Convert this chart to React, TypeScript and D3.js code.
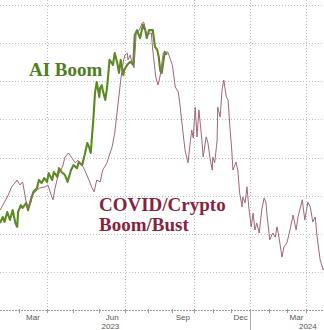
import React from "react";
import * as d3 from "d3";

// AI Boom (2023) – rebased index
const aiDates = ["2023-02-08","2023-02-11","2023-02-13","2023-02-16","2023-02-19","2023-02-22","2023-02-25","2023-02-27","2023-02-28","2023-03-03","2023-03-05","2023-03-09","2023-03-11","2023-03-15","2023-03-17","2023-03-21","2023-03-23","2023-03-26","2023-03-29","2023-04-01","2023-04-03","2023-04-07","2023-04-09","2023-04-13","2023-04-15","2023-04-18","2023-04-22","2023-04-25","2023-04-29","2023-05-02","2023-05-06","2023-05-08","2023-05-12","2023-05-15","2023-05-18","2023-05-20","2023-05-22","2023-05-25","2023-05-27","2023-05-29","2023-06-01","2023-06-02","2023-06-04","2023-06-05","2023-06-08","2023-06-10","2023-06-13","2023-06-17","2023-06-19","2023-06-22","2023-06-24","2023-06-26","2023-06-29","2023-06-30","2023-07-04","2023-07-08","2023-07-12","2023-07-14","2023-07-17","2023-07-21","2023-07-25","2023-07-28","2023-07-30","2023-08-02","2023-08-07","2023-08-10","2023-08-13","2023-08-15","2023-08-17","2023-08-19","2023-08-23","2023-08-26"];
const aiValues = [102.8,104.4,103.1,105.7,103.6,106.2,102.8,101.8,105.7,107.5,106.8,108.1,106.2,109.6,111.0,112.0,114.1,113.3,114.6,113.6,115.9,114.1,116.2,114.9,117.2,116.2,115.4,113.6,116.7,118.0,117.2,118.8,118.0,120.7,123.8,122.8,121.2,129.8,136.9,139.8,135.9,138.2,139.0,137.7,135.1,138.2,145.6,144.3,147.4,144.8,142.2,145.6,141.6,143.0,144.3,145.1,144.3,152.1,153.4,151.3,154.8,153.4,151.3,153.4,153.4,149.0,148.2,146.4,142.8,142.2,147.7,147.0];

// COVID/Crypto Boom/Bust – rebased index, overlaid
const covidDates = ["2023-02-08","2023-02-11","2023-02-16","2023-02-21","2023-02-27","2023-03-02","2023-03-05","2023-03-08","2023-03-10","2023-03-14","2023-03-16","2023-03-21","2023-03-24","2023-03-30","2023-04-02","2023-04-07","2023-04-08","2023-04-10","2023-04-14","2023-04-19","2023-04-22","2023-04-26","2023-04-30","2023-05-04","2023-05-07","2023-05-12","2023-05-15","2023-05-19","2023-05-23","2023-05-26","2023-05-29","2023-06-02","2023-06-05","2023-06-10","2023-06-12","2023-06-16","2023-06-19","2023-06-23","2023-06-26","2023-06-29","2023-07-01","2023-07-04","2023-07-05","2023-07-08","2023-07-10","2023-07-13","2023-07-16","2023-07-20","2023-07-24","2023-07-26","2023-07-30","2023-08-05","2023-08-07","2023-08-11","2023-08-14","2023-08-17","2023-08-21","2023-08-27","2023-09-02","2023-09-03","2023-09-06","2023-09-10","2023-09-12","2023-09-16","2023-09-19","2023-09-23","2023-09-26","2023-09-28","2023-09-30","2023-10-03","2023-10-06","2023-10-09","2023-10-14","2023-10-16","2023-10-21","2023-10-24","2023-10-27","2023-10-31","2023-11-01","2023-11-04","2023-11-08","2023-11-09","2023-11-13","2023-11-16","2023-11-19","2023-11-23","2023-11-26","2023-11-29","2023-12-02","2023-12-04","2023-12-09","2023-12-12","2023-12-15","2023-12-19","2023-12-20","2023-12-24","2023-12-27","2023-12-30","2024-01-03","2024-01-06","2024-01-09","2024-01-12","2024-01-16","2024-01-20","2024-01-24","2024-01-27","2024-01-29","2024-02-02","2024-02-07","2024-02-11","2024-02-14","2024-02-17","2024-02-22","2024-02-25","2024-03-01","2024-03-06","2024-03-11","2024-03-16","2024-03-19","2024-03-26","2024-03-27","2024-03-30","2024-04-04","2024-04-08","2024-04-12","2024-04-16","2024-04-19","2024-04-24","2024-04-29","2024-05-02"];
const covidValues = [106.2,107.5,109.6,112.3,114.1,112.8,113.6,109.6,106.8,108.1,110.2,111.5,112.0,112.3,112.8,109.4,108.9,111.5,115.4,117.5,120.1,121.2,119.9,118.6,119.3,118.0,116.7,114.6,112.3,111.0,114.1,113.6,116.7,118.6,120.1,122.8,126.4,134.3,140.3,145.1,146.9,147.4,145.6,146.9,145.1,143.5,152.7,153.4,155.3,155.5,152.1,152.7,148.2,141.1,139.0,141.6,147.4,147.7,144.3,143.0,138.5,137.2,134.3,127.2,122.0,118.6,124.1,127.2,125.1,133.2,125.4,132.5,124.6,120.1,125.4,123.8,120.1,116.7,120.1,118.6,124.6,133.2,130.6,137.7,140.3,135.9,135.1,128.0,122.0,116.7,118.8,116.7,110.7,107.0,109.6,108.1,112.3,107.0,101.8,105.4,101.0,102.8,100.2,106.2,109.4,108.1,104.4,98.4,100.2,99.1,101.8,99.1,93.9,96.5,97.6,101.0,104.9,101.0,104.4,108.9,107.5,103.6,108.3,107.0,103.1,104.4,99.1,93.1,90.5,91.3];

const gridValues = [90, 100, 110, 120, 130, 140, 150, 160];
const quarterStarts = ["2023-04-01", "2023-07-01", "2023-10-01", "2024-01-01", "2024-04-01"];
const monthTicks = ["2023-02-01","2023-03-01","2023-04-01","2023-05-01","2023-06-01","2023-07-01","2023-08-01","2023-09-01","2023-10-01","2023-11-01","2023-12-01","2024-01-01","2024-02-01","2024-03-01","2024-04-01","2024-05-01"];
const monthLabels = [
  { label: "Mar", from: "2023-03-01", to: "2023-04-01" },
  { label: "Jun", from: "2023-06-01", to: "2023-07-01" },
  { label: "Sep", from: "2023-09-01", to: "2023-10-01" },
  { label: "Dec", from: "2023-12-01", to: "2024-01-01" },
  { label: "Mar", from: "2024-03-01", to: "2024-04-01" },
];
const yearLabels = [
  { label: "2023", at: "2023-06-14" },
  { label: "2024", at: "2024-04-04" },
];
const yearBreaks = ["2024-01-01"];

const W = 324;
const H = 330;
const parse = d3.timeParse("%Y-%m-%d");

export default function App() {
  const x = d3
    .scaleTime()
    .domain(["2023-02-01","2023-03-01","2023-04-01","2023-07-01","2023-10-01","2024-01-01","2024-04-01","2024-05-01"].map((s) => parse(s) as Date))
    .range([-6.3, 19, 47, 125, 194, 250, 306, 324.5]);
  const y = d3.scaleLinear().domain([80, 160]).range([310, 5]);

  const line = d3
    .line<[Date, number]>()
    .x((d) => x(d[0]))
    .y((d) => y(d[1]));

  const ai: [Date, number][] = aiDates.map((s, i) => [parse(s) as Date, aiValues[i]]);
  const covid: [Date, number][] = covidDates.map((s, i) => [parse(s) as Date, covidValues[i]]);

  const grid = { stroke: "#bdbdbd", strokeWidth: 1, strokeDasharray: "1 2" };

  return (
    <div style={{ position: "fixed", left: 0, top: 0 }}>
      <svg width={W} height={H} style={{ display: "block", background: "#fff" }}>
        {gridValues.map((v) => (
          <line key={"h" + v} x1={0} x2={W} y1={Math.round(y(v)) + 0.5} y2={Math.round(y(v)) + 0.5} {...grid} />
        ))}
        {quarterStarts.map((s) => {
          const px = Math.round(x(parse(s) as Date)) + 0.5;
          return <line key={"v" + s} x1={px} x2={px} y1={0} y2={y(80)} {...grid} />;
        })}
        <line x1={0} x2={W} y1={310.5} y2={310.5} stroke="#a0a0a0" strokeWidth={1} strokeDasharray="2 1" />
        {monthTicks.map((s) => {
          const px = Math.round(x(parse(s) as Date)) + 0.5;
          return <line key={"t" + s} x1={px} x2={px} y1={309} y2={313} stroke="#999" strokeWidth={1} />;
        })}
        {yearBreaks.map((s) => {
          const px = Math.round(x(parse(s) as Date)) + 0.5;
          return <line key={"yb" + s} x1={px} x2={px} y1={313} y2={H} stroke="#aaa" strokeWidth={1} />;
        })}
        {monthLabels.map((m, i) => (
          <text key={"m" + i} x={(x(parse(m.from) as Date) + x(parse(m.to) as Date)) / 2} y={320} fontFamily="Liberation Sans, Arial, sans-serif" fontSize={8} fill="#555" textAnchor="middle">
            {m.label}
          </text>
        ))}
        {yearLabels.map((yl) => (
          <text key={yl.label} x={x(parse(yl.at) as Date)} y={329} fontFamily="Liberation Sans, Arial, sans-serif" fontSize={8} fill="#555" textAnchor="middle">
            {yl.label}
          </text>
        ))}
        <path d={line(ai) ?? ""} fill="none" stroke="#5b8a22" strokeWidth={2.1} strokeLinejoin="round" />
        <path d={line(covid) ?? ""} fill="none" stroke="#a0667c" strokeWidth={1} strokeLinejoin="round" />
        <text x={29} y={76} fontFamily="Liberation Serif, Times New Roman, serif" fontWeight="bold" fontSize={19} fill="#4f7d1f">
          AI Boom
        </text>
        <text x={99} y={211} fontFamily="Liberation Serif, Times New Roman, serif" fontWeight="bold" fontSize={19} fill="#8a1f3e">
          COVID/Crypto
        </text>
        <text x={99} y={231} fontFamily="Liberation Serif, Times New Roman, serif" fontWeight="bold" fontSize={19} fill="#8a1f3e">
          Boom/Bust
        </text>
      </svg>
    </div>
  );
}
